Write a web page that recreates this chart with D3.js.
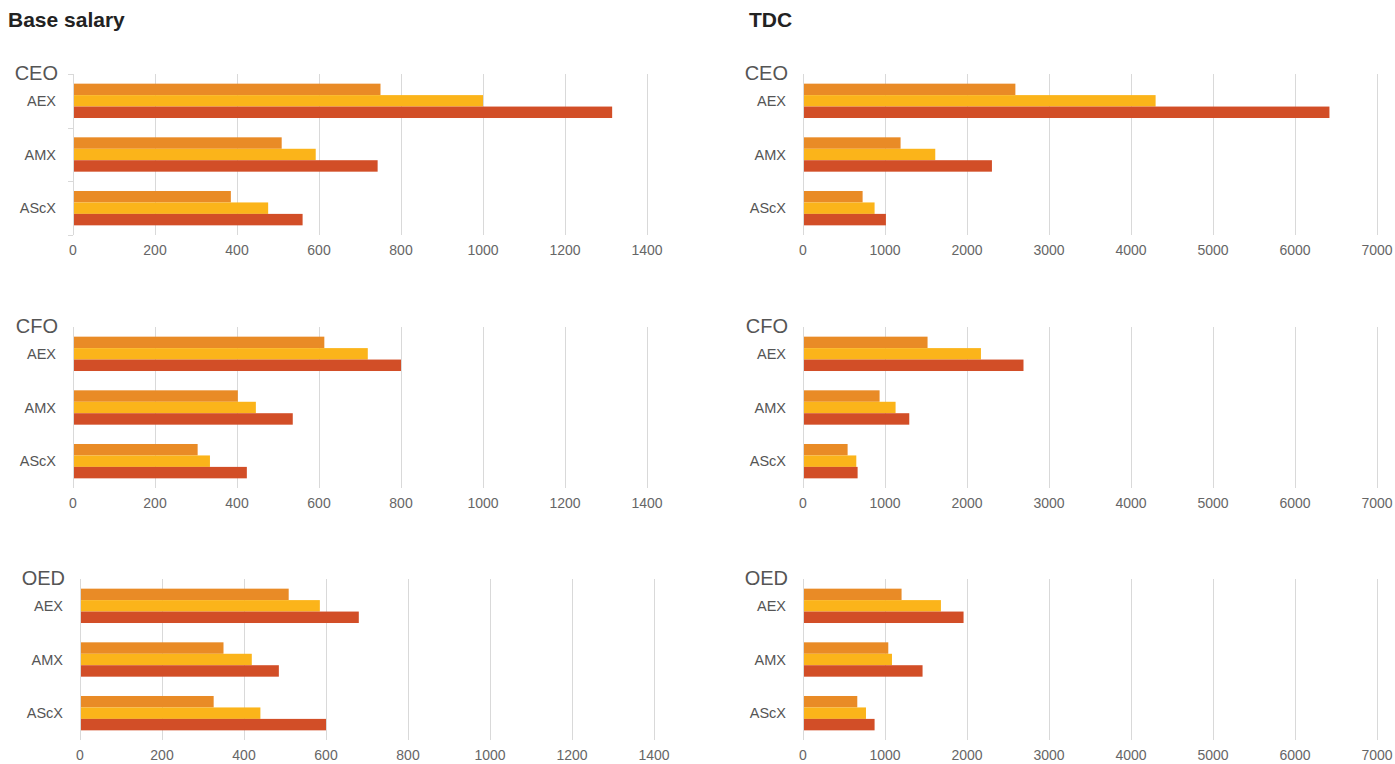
<!DOCTYPE html>
<html lang="en">
<head>
    <meta charset="UTF-8">
    <title>Base salary / TDC</title>
    <script src="https://cdn.jsdelivr.net/npm/d3@7"></script>
    <style>
        body { margin: 0; background: #fff; }
        svg text { font-family: "Liberation Sans", Arial, sans-serif; }
        .grid line { stroke: #d9d9d9; shape-rendering: crispEdges; }
        .tick-label { font-size: 14px; fill: #666; }
        .cat-label { font-size: 14.5px; fill: #555; }
        .role-label { font-size: 20px; fill: #555; }
        .title { font-size: 21px; font-weight: bold; fill: #222; }
    </style>
</head>
<body>
    <script>
        //categories and tick labels
        var categories = ['AEX', 'AMX', 'AScX'];
        var roles = ['CEO', 'CFO', 'OED'];
        var baseTicks = [0, 200, 400, 600, 800, 1000, 1200, 1400];
        var tdcTicks = [0, 1000, 2000, 3000, 4000, 5000, 6000, 7000];
        var colors = ['#E98B26', '#FBB41A', '#D24E27'];

        //values per category: [orange, yellow, red]
        var baseCEO = [[750, 1000, 1315], [509, 592, 743], [385, 476, 560]];
        var baseCFO = [[613, 719, 800], [402, 446, 536], [304, 334, 424]];
        var baseOED = [[509, 585, 680], [350, 419, 485], [326, 440, 600]];
        var tdcCEO = [[2590, 4300, 6420], [1190, 1613, 2304], [727, 873, 1011]];
        var tdcCFO = [[1519, 2170, 2689], [934, 1129, 1296], [544, 650, 666]];
        var tdcOED = [[1202, 1682, 1958], [1040, 1085, 1458], [662, 768, 873]];

        var w = 1395;
        var h = 764;

        var svg = d3.select('body')
                    .append('svg')
                    .attr('width', w)
                    .attr('height', h);

        //titles
        svg.append('text').attr('class', 'title').attr('x', 8).attr('y', 27).text('Base salary');
        svg.append('text').attr('class', 'title').attr('x', 749).attr('y', 27).text('TDC');

        var panels = [
            {role: roles[0], data: baseCEO, ticks: baseTicks, x0: 73, top: 74, yTicks: true},
            {role: roles[1], data: baseCFO, ticks: baseTicks, x0: 73, top: 327},
            {role: roles[2], data: baseOED, ticks: baseTicks, x0: 80, top: 579},
            {role: roles[0], data: tdcCEO, ticks: tdcTicks, x0: 803, top: 74},
            {role: roles[1], data: tdcCFO, ticks: tdcTicks, x0: 803, top: 327},
            {role: roles[2], data: tdcOED, ticks: tdcTicks, x0: 803, top: 579}
        ];

        var plotW = 574;
        var plotH = 161;

        panels.forEach(function(p) {
            var g = svg.append('g');

            var xScale = d3.scaleLinear()
                            .domain([0, p.ticks[p.ticks.length - 1]])
                            .range([p.x0, p.x0 + plotW]);

            var yScale = d3.scaleBand()
                            .domain(categories)
                            .range([p.top, p.top + plotH])
                            .paddingInner(0.36)
                            .paddingOuter(0.18);

            var subScale = d3.scaleBand()
                            .domain([0, 1, 2])
                            .range([0, yScale.bandwidth()]);

            //gridlines
            g.append('g')
                .attr('class', 'grid')
                .selectAll('line')
                .data(p.ticks)
                .enter()
                .append('line')
                .attr('x1', function(d) { return Math.round(xScale(d)) + 0.5; })
                .attr('x2', function(d) { return Math.round(xScale(d)) + 0.5; })
                .attr('y1', p.top)
                .attr('y2', p.top + plotH);

            //small y ticks (only first panel shows them)
            if (p.yTicks) {
                g.append('g')
                    .attr('class', 'grid')
                    .selectAll('line')
                    .data(d3.range(4))
                    .enter()
                    .append('line')
                    .attr('x1', p.x0 - 5)
                    .attr('x2', p.x0)
                    .attr('y1', function(d) { return Math.round(p.top + d * plotH / 3) + 0.5; })
                    .attr('y2', function(d) { return Math.round(p.top + d * plotH / 3) + 0.5; });
            }

            //tick labels
            g.selectAll('text.tick-label')
                .data(p.ticks)
                .enter()
                .append('text')
                .attr('class', 'tick-label')
                .attr('x', function(d) { return xScale(d); })
                .attr('y', p.top + plotH + 20)
                .attr('text-anchor', 'middle')
                .text(function(d) { return d; });

            //bars
            var groups = g.selectAll('g.cat')
                .data(p.data)
                .enter()
                .append('g')
                .attr('transform', function(d, i) {
                    return 'translate(0,' + yScale(categories[i]) + ')';
                });

            groups.selectAll('rect')
                .data(function(d) { return d; })
                .enter()
                .append('rect')
                .attr('x', xScale(0) + 1)
                .attr('y', function(d, j) { return subScale(j); })
                .attr('width', function(d) { return xScale(d) - xScale(0) - 1; })
                .attr('height', subScale.bandwidth())
                .attr('fill', function(d, j) { return colors[j]; });

            //category labels
            g.selectAll('text.cat-label')
                .data(categories)
                .enter()
                .append('text')
                .attr('class', 'cat-label')
                .attr('x', p.x0 - 17)
                .attr('y', function(d) { return yScale(d) + yScale.bandwidth() / 2 + 5; })
                .attr('text-anchor', 'end')
                .text(function(d) { return d; });

            //role label
            g.append('text')
                .attr('class', 'role-label')
                .attr('x', p.x0 - 15)
                .attr('y', p.top + 6)
                .attr('text-anchor', 'end')
                .text(p.role);
        });
    </script>
</body>
</html>
